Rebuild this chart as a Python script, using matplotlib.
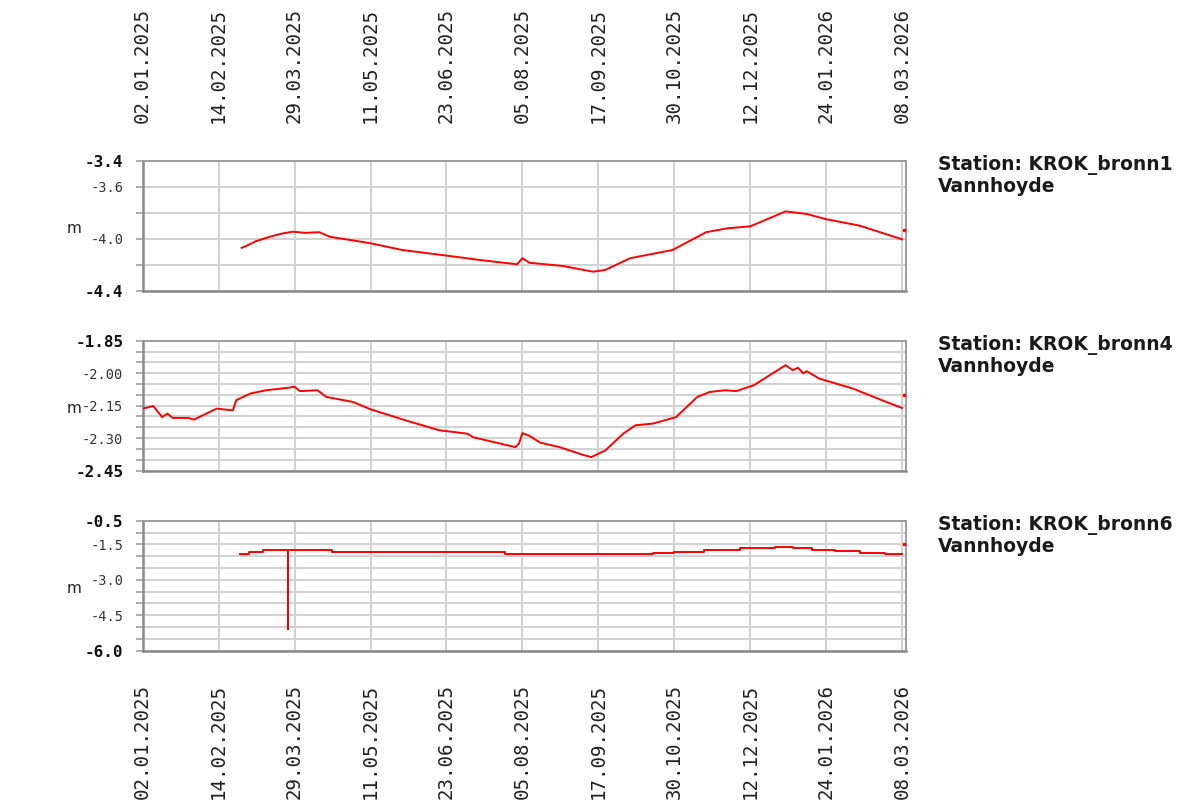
import matplotlib
matplotlib.use("Agg")
import matplotlib.pyplot as plt
import matplotlib.dates as mdates
import pandas as pd
import numpy as np

# ---------------- data ----------------
top_dates = ["2025-02-27", "2025-03-01", "2025-03-07", "2025-03-15", "2025-03-22", "2025-03-28",
             "2025-04-04", "2025-04-12", "2025-04-18", "2025-05-11", "2025-05-29", "2025-06-23",
             "2025-07-12", "2025-08-02", "2025-08-05", "2025-08-09", "2025-08-28", "2025-09-14",
             "2025-09-21", "2025-10-05", "2025-10-29", "2025-11-17", "2025-11-29", "2025-12-12",
             "2026-01-01", "2026-01-13", "2026-01-24", "2026-02-12", "2026-03-08"]
top_values = [-4.07, -4.06, -4.02, -3.985, -3.96, -3.946,
              -3.955, -3.95, -3.985, -4.035, -4.087, -4.13,
              -4.164, -4.197, -4.15, -4.185, -4.21, -4.254,
              -4.24, -4.15, -4.087, -3.95, -3.92, -3.905,
              -3.79, -3.81, -3.85, -3.90, -4.005]
top_last_date = ["2026-03-09"]
top_last_value = [-3.93]

mid_dates = ["2025-01-02", "2025-01-08", "2025-01-13", "2025-01-16", "2025-01-19", "2025-01-28",
             "2025-01-31", "2025-02-05", "2025-02-13", "2025-02-22", "2025-02-24", "2025-03-04",
             "2025-03-13", "2025-03-25", "2025-03-29", "2025-04-01", "2025-04-11", "2025-04-16",
             "2025-05-01", "2025-05-11", "2025-06-01", "2025-06-19", "2025-07-05", "2025-07-08",
             "2025-08-01", "2025-08-03", "2025-08-05", "2025-08-09", "2025-08-15", "2025-08-26",
             "2025-09-08", "2025-09-13", "2025-09-21", "2025-10-01", "2025-10-08", "2025-10-18",
             "2025-10-31", "2025-11-12", "2025-11-19", "2025-11-28", "2025-12-04", "2025-12-14",
             "2026-01-01", "2026-01-05", "2026-01-08", "2026-01-11", "2026-01-13", "2026-01-20",
             "2026-02-08", "2026-02-27", "2026-03-08"]
mid_values = [-2.164, -2.152, -2.203, -2.187, -2.207, -2.207,
              -2.215, -2.195, -2.164, -2.172, -2.125, -2.094,
              -2.079, -2.068, -2.063, -2.083, -2.079, -2.11,
              -2.133, -2.167, -2.221, -2.264, -2.28, -2.296,
              -2.342, -2.326, -2.277, -2.29, -2.321, -2.342,
              -2.377, -2.388, -2.357, -2.28, -2.241, -2.233,
              -2.203, -2.11, -2.087, -2.079, -2.083, -2.056,
              -1.963, -1.986, -1.975, -2.001, -1.991, -2.025,
              -2.071, -2.133, -2.161]
mid_last_date = ["2026-03-09"]
mid_last_value = [-2.102]

bot_dates = ["2025-02-26 00:00", "2025-03-03 00:00", "2025-03-11 00:00", "2025-03-25 00:00",
             "2025-03-25 06:00", "2025-04-19 00:00", "2025-07-26 00:00", "2025-10-18 00:00",
             "2025-10-30 00:00", "2025-11-16 00:00", "2025-12-06 00:00", "2025-12-26 00:00",
             "2026-01-05 00:00", "2026-01-16 00:00", "2026-01-29 00:00", "2026-02-12 00:00",
             "2026-02-26 00:00", "2026-03-08 00:00"]
bot_values = [-1.91, -1.81, -1.74, -5.08,
              -1.74, -1.84, -1.92, -1.88,
              -1.84, -1.74, -1.64, -1.60,
              -1.64, -1.74, -1.78, -1.85,
              -1.92, -1.92]
bot_last_date = ["2026-03-09"]
bot_last_value = [-1.50]

x_tick_dates = ["2025-01-02", "2025-02-14", "2025-03-29", "2025-05-11", "2025-06-23", "2025-08-05",
                "2025-09-17", "2025-10-30", "2025-12-12", "2026-01-24", "2026-03-08"]
x_start, x_end = "2025-01-02", "2026-03-10"

stations = ["Station: KROK_bronn1", "Station: KROK_bronn4", "Station: KROK_bronn6"]
param_name = "Vannhoyde"
unit = "m"

y_limits = [(-4.4, -3.4), (-2.45, -1.85), (-6.0, -0.5)]
y_label_vals = [[-3.4, -3.6, -4.0, -4.4],
                [-1.85, -2.00, -2.15, -2.30, -2.45],
                [-0.5, -1.5, -3.0, -4.5, -6.0]]
y_label_txt = [["-3.4", "-3.6", "-4.0", "-4.4"],
               ["-1.85", "-2.00", "-2.15", "-2.30", "-2.45"],
               ["-0.5", "-1.5", "-3.0", "-4.5", "-6.0"]]
y_grid_step = [0.2, 0.05, 0.5]

series = [(top_dates, top_values, top_last_date, top_last_value, "default"),
          (mid_dates, mid_values, mid_last_date, mid_last_value, "default"),
          (bot_dates, bot_values, bot_last_date, bot_last_value, "steps-post")]

# ---------------- figure ----------------
W, H = 1186, 801
fig = plt.figure(figsize=(W / 100, H / 100), dpi=100)
fig.patch.set_facecolor("white")

left = 142.7 / W
width = (905.7 - 142.7) / W
panel_px = [(160.7, 290.7), (340.7, 470.5), (520.7, 650.7)]

xt = pd.to_datetime(x_tick_dates)
xlo, xhi = pd.to_datetime(x_start), pd.to_datetime(x_end)
grid_c = "#d2d2d2"
red = "#ff0000"

for i, (top_px, bot_px) in enumerate(panel_px):
    ax = fig.add_axes([left, 1 - bot_px / H, width, (bot_px - top_px) / H])
    d, v, ld, lv, ds = series[i]
    ax.plot(pd.to_datetime(d, format="mixed"), v, color=red, lw=1.4, drawstyle=ds, zorder=3)
    ax.plot(pd.to_datetime(ld, format="mixed"), lv, color=red, marker="s", ms=1.6, lw=0, zorder=3)

    ax.set_xlim(xlo, xhi)
    lo, hi = y_limits[i]
    ax.set_ylim(lo, hi)

    n = int(round((hi - lo) / y_grid_step[i]))
    grid_vals = [lo + k * y_grid_step[i] for k in range(n + 1)]
    ax.set_yticks(grid_vals, minor=True)
    ax.set_yticks(y_label_vals[i])
    ax.set_yticklabels(y_label_txt[i])
    ax.grid(True, which="minor", axis="y", color=grid_c, lw=1.5, zorder=0)
    ax.grid(True, which="major", axis="y", color=grid_c, lw=1.5, zorder=0)
    ax.tick_params(axis="y", which="both", length=5, width=1.2, color="#a0a0a0",
                   direction="out", pad=9)
    for lab in ax.get_yticklabels():
        lab.set_fontfamily("DejaVu Sans Mono")
        lab.set_fontsize(9.8)
        lab.set_color("#333333")
    labs = ax.get_yticklabels()
    for j in (0, len(labs) - 1):
        labs[j].set_fontweight("bold")
        labs[j].set_fontsize(11.5)
        labs[j].set_color("#111111")

    ax.set_xticks(xt)
    ax.xaxis.set_major_formatter(mdates.DateFormatter("%d.%m.%Y"))
    ax.grid(True, which="major", axis="x", color=grid_c, lw=1.5, zorder=0)
    ax.tick_params(axis="x", which="both", length=0)
    if i == 0:
        ax.xaxis.tick_top()
        ax.tick_params(axis="x", labeltop=True, labelbottom=False, pad=27)
        for lab in ax.get_xticklabels():
            lab.set_rotation(90)
            lab.set_fontfamily("DejaVu Sans Mono")
            lab.set_fontsize(13.8)
            lab.set_color("#222222")
            lab.set_va("bottom")
    elif i == 2:
        ax.tick_params(axis="x", labelbottom=True, pad=24)
        for lab in ax.get_xticklabels():
            lab.set_rotation(90)
            lab.set_fontfamily("DejaVu Sans Mono")
            lab.set_fontsize(13.8)
            lab.set_color("#222222")
            lab.set_va("top")
    else:
        ax.tick_params(axis="x", labelbottom=False)

    for s in ("left", "bottom"):
        ax.spines[s].set_color("#8a8a8a")
        ax.spines[s].set_linewidth(1.8)
    for s in ("top", "right"):
        ax.spines[s].set_color("#9c9c9c")
        ax.spines[s].set_linewidth(1.4)
    ax.set_facecolor("white")

    yc = (top_px + bot_px) / 2 + 3
    fig.text(74 / W, 1 - yc / H, unit, fontsize=11, ha="center", va="center",
             family="DejaVu Sans", color="#222222")
    fig.text(938 / W, 1 - (top_px + 4) / H, stations[i], fontsize=13.5, fontweight="bold",
             ha="left", va="center", family="DejaVu Sans", color="#1a1a1a")
    fig.text(938 / W, 1 - (top_px + 26) / H, param_name, fontsize=13.5, fontweight="bold",
             ha="left", va="center", family="DejaVu Sans", color="#1a1a1a")

fig.savefig("out.png", dpi=100, facecolor="white")
